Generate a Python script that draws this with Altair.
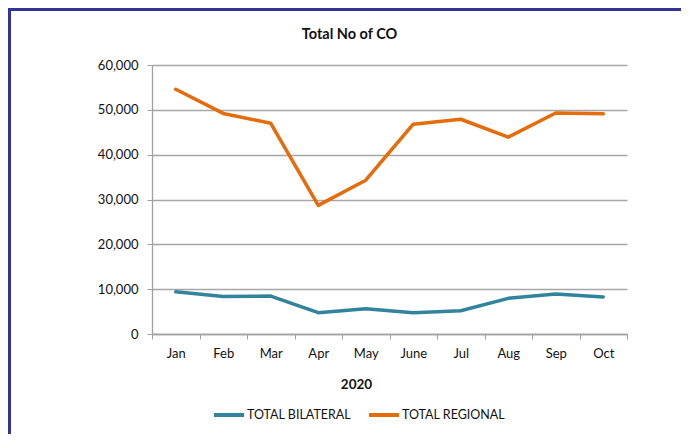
import altair as alt
import pandas as pd

months = ["Jan", "Feb", "Mar", "Apr", "May", "June", "Jul", "Aug", "Sep", "Oct"]
bilateral = [9400, 8350, 8450, 4750, 5650, 4750, 5200, 7950, 8900, 8250]
regional = [54600, 49200, 47000, 28700, 34300, 46800, 47900, 43900, 49300, 49100]
series_names = ["TOTAL BILATERAL", "TOTAL REGIONAL"]
series_colors = ["#31849B", "#E46C0A"]
y_ticks = [0, 10000, 20000, 30000, 40000, 50000, 60000]

rows = []
for i, m in enumerate(months):
    rows.append({"idx": i, "month": m, "series": series_names[0], "value": bilateral[i]})
    rows.append({"idx": i, "month": m, "series": series_names[1], "value": regional[i]})
df = pd.DataFrame(rows)

FONT = "Lato, sans-serif"
month_js = "[" + ",".join("'%s'" % m for m in months) + "]"
half_ticks = [i - 0.5 for i in range(len(months) + 1)]

lines = alt.Chart(df).mark_line(strokeWidth=3.5, strokeJoin="round", strokeCap="round").encode(
    x=alt.X(
        "idx:Q",
        scale=alt.Scale(domain=[-0.5, len(months) - 0.5], nice=False, zero=False),
        axis=alt.Axis(
            values=half_ticks,
            labelExpr="datum.value < %d ? %s[round(datum.value + 0.5)] : ''" % (len(months) - 1, month_js),
            labelOffset=23.75,
            labelFlush=False,
            labelOverlap=False,
            grid=False,
            tickSize=5,
            tickColor="#a0a0a0",
            domainColor="#a0a0a0",
            domainWidth=1.3,
            labelPadding=8,
            labelFontSize=13,
            labelFont=FONT,
            labelColor="#111111",
            title="2020",
            titleFont=FONT,
            titleFontSize=13.5,
            titleFontWeight="bold",
            titleColor="#111111",
            titleX=204,
            titleY=50,
            titleBaseline="middle",
        ),
    ),
    y=alt.Y(
        "value:Q",
        scale=alt.Scale(domain=[0, 60000], nice=False),
        axis=alt.Axis(
            values=y_ticks,
            format=",.0f",
            title=None,
            grid=True,
            gridColor="#a6a6a6",
            gridWidth=1.3,
            tickSize=5,
            tickColor="#a0a0a0",
            domainColor="#a0a0a0",
            domainWidth=1.3,
            labelPadding=9,
            labelFontSize=13,
            labelFont=FONT,
            labelColor="#111111",
        ),
    ),
    color=alt.Color(
        "series:N",
        scale=alt.Scale(domain=series_names, range=series_colors),
        legend=alt.Legend(
            title=None,
            orient="none",
            direction="horizontal",
            legendX=60,
            legendY=333,
            symbolType="stroke",
            symbolStrokeWidth=4,
            symbolSize=900,
            labelFont=FONT,
            labelFontSize=12.5,
            labelColor="#111111",
            labelOffset=1,
            columnPadding=9,
        ),
    ),
    order="idx:Q",
)

border = alt.Chart(alt.Data(values=[{"a": 1}])).mark_rect(
    fillOpacity=0, stroke="#333399", strokeWidth=3
).encode(
    x=alt.value(-142.5), x2=alt.value(800), y=alt.value(-55.5), y2=alt.value(600)
)

chart = alt.layer(lines, border).properties(
    width=475,
    height=269,
    autosize=alt.AutoSizeParams(type="none"),
    padding={"left": 144, "top": 57, "right": 54, "bottom": 100},
    title=alt.TitleParams(
        "Total No of CO",
        font=FONT,
        fontSize=14.5,
        fontWeight="bold",
        color="#111111",
        anchor="middle",
        frame="group",
        dx=-40,
        offset=0,
        dy=34,
    ),
).configure_view(stroke=None)

chart.save("out.html", embed_options={"renderer": "svg", "actions": False})
